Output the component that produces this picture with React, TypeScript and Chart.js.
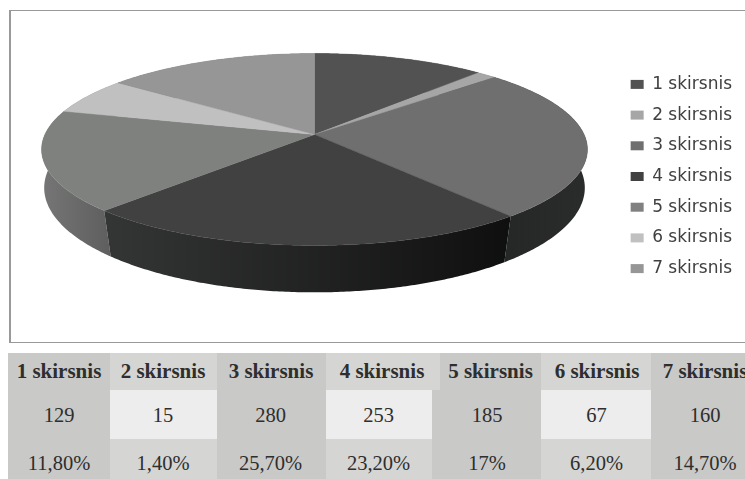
import React, { useEffect, useRef } from "react";
import { Chart, registerables } from "chart.js";

Chart.register(...registerables);

const categories = ["1 skirsnis", "2 skirsnis", "3 skirsnis", "4 skirsnis", "5 skirsnis", "6 skirsnis", "7 skirsnis"];
const counts = [129, 15, 280, 253, 185, 67, 160];
const percents = ["11,80%", "1,40%", "25,70%", "23,20%", "17%", "6,20%", "14,70%"];

const topColors = ["#525252", "#a6a6a6", "#6f6f6f", "#414141", "#7f817f", "#c0c0c0", "#969696"];
const wallLeft = ["#3a3a3a", "#777777", "#252726", "#343635", "#767676", "#8a8a8a", "#6a6a6a"];
const wallRight = ["#3a3a3a", "#777777", "#2a2c2b", "#0f0f0f", "#5e5e5e", "#8a8a8a", "#6a6a6a"];

// perspective projection of the pie's unit circle
const CX = 314.5, CY = 134.5, K = 0.156;
const TOP = { a: 269.6, b: 93.66, dy: 0, squeeze: 1 };
const BOTTOM = { a: 267, b: 102, dy: 37, squeeze: 0.97 };

type Proj = { a: number; b: number; dy: number; squeeze: number };

function project(angle: number, p: Proj) {
  // the lower rim is seen at a slightly different angle: its seams lean toward the front
  const t = (angle - Math.PI / 2) * p.squeeze + Math.PI / 2;
  const u = Math.cos(t), v = Math.sin(t);
  const d = 1 - K * v;
  return [CX + (p.a * u) / d, CY + p.dy + (p.b * v) / d];
}
function arcPoints(start: number, end: number, p: Proj) {
  const n = Math.max(2, Math.ceil((end - start) / 0.01));
  const pts: number[][] = [];
  for (let i = 0; i <= n; i++) pts.push(project(start + ((end - start) * i) / n, p));
  return pts;
}

const pie3d = {
  id: "pie3d",
  beforeDatasetDraw(chart: any, args: any) {
    const ctx = chart.ctx as CanvasRenderingContext2D;
    const arcs = args.meta.data as any[];
    const order = arcs
      .map((a, i) => ({ i, s: a.startAngle, e: a.endAngle }))
      .sort((p, q) => Math.sin((p.s + p.e) / 2) - Math.sin((q.s + q.e) / 2));
    ctx.save();
    for (const { i, s, e } of order) {
      const t = arcPoints(s, e, TOP);
      const b = arcPoints(s, e, BOTTOM);
      const xs = t.concat(b).map((q) => q[0]);
      const g = ctx.createLinearGradient(Math.min(...xs), 0, Math.max(...xs), 0);
      g.addColorStop(0, wallLeft[i]);
      g.addColorStop(1, wallRight[i]);
      ctx.fillStyle = g;
      ctx.beginPath();
      t.forEach((q, k) => (k ? ctx.lineTo(q[0], q[1]) : ctx.moveTo(q[0], q[1])));
      b.reverse().forEach((q) => ctx.lineTo(q[0], q[1]));
      ctx.closePath();
      ctx.fill();
    }
    arcs.forEach((a, i) => {
      const t = arcPoints(a.startAngle, a.endAngle, TOP);
      ctx.fillStyle = topColors[i];
      ctx.strokeStyle = topColors[i];
      ctx.lineWidth = 0.4;
      ctx.beginPath();
      ctx.moveTo(CX, CY);
      t.forEach((q) => ctx.lineTo(q[0], q[1]));
      ctx.closePath();
      ctx.fill();
      ctx.stroke();
    });
    ctx.restore();
    return false;
  },
};

const columns = [
  { l: 8, r: 110, hl: 8, hr: 110 },
  { l: 110, r: 217, hl: 110, hr: 217 },
  { l: 217, r: 326, hl: 217, hr: 326 },
  { l: 326, r: 432, hl: 326, hr: 440 },
  { l: 432, r: 541, hl: 440, hr: 541 },
  { l: 541, r: 651, hl: 541, hr: 651 },
  { l: 651, r: 745, hl: 651, hr: 745 },
];
const DARK = "#c9c9c8", MID = "#d5d5d4", LIGHT = "#ecedec";
const HEAD_CENTER = [59, 163, 271, 382, 490.5, 597, 705];
const DATA_CENTER = [59, 163, 270.5, 378.5, 487, 596.5, 705];

function cell(text: string, left: number, width: number, top: number, height: number, textHeight: number, bg: string, bold: boolean, center: number) {
  return (
    <React.Fragment key={text + left + top}>
      <div style={{ position: "absolute", left, width, top, height, background: bg }} />
      <div
        style={{
          position: "absolute",
          left: center - 60,
          width: 120,
          top,
          height: textHeight,
          lineHeight: textHeight + "px",
          textAlign: "center",
          whiteSpace: "nowrap",
          fontFamily: "'Liberation Serif', serif",
          fontWeight: bold ? 700 : 400,
          fontSize: bold ? 21 : 20.5,
          color: "#2e2e2e",
        }}
      >
        {text}
      </div>
    </React.Fragment>
  );
}

export default function App() {
  const ref = useRef<HTMLCanvasElement | null>(null);
  useEffect(() => {
    document.body.style.margin = "0";
    document.body.style.overflow = "hidden";
    const chart = new Chart(ref.current as HTMLCanvasElement, {
      type: "pie",
      data: { labels: categories, datasets: [{ data: counts, backgroundColor: topColors, borderWidth: 0 }] },
      plugins: [pie3d],
      options: {
        responsive: false,
        animation: false,
        layout: { padding: { right: 3 } },
        plugins: {
          tooltip: { enabled: false },
          legend: {
            position: "right",
            labels: {
              boxWidth: 13,
              boxHeight: 9,
              padding: 13.7,
              color: "#404040",
              font: { family: "'DejaVu Sans', sans-serif", size: 17 },
            },
          },
        },
      },
    } as any);
    return () => chart.destroy();
  }, []);
  return (
    <div style={{ position: "relative", width: 745, height: 479, overflow: "hidden", background: "#fff" }}>
      <div
        style={{
          position: "absolute",
          left: 9,
          top: 10,
          width: 736,
          height: 333,
          boxSizing: "border-box",
          borderTop: "1px solid #999",
          borderBottom: "1px solid #999",
          borderLeft: "2px solid #999",
        }}
      />
      <canvas ref={ref} width={745} height={353} style={{ position: "absolute", left: 0, top: 0, width: 745, height: 353 }} />
      {columns.map((c, i) => {
        const odd = i % 2 === 0;
        const base = odd ? DARK : MID;
        return (
          <React.Fragment key={i}>
            {cell(categories[i], c.hl, c.hr - c.hl, 353, 37, 37, base, true, HEAD_CENTER[i])}
            {cell(String(counts[i]), c.l, c.r - c.l, 390, 49, 50, odd ? DARK : LIGHT, false, DATA_CENTER[i])}
            {cell(percents[i], c.l, c.r - c.l, 439, 40, 48, base, false, DATA_CENTER[i])}
          </React.Fragment>
        );
      })}
    </div>
  );
}
